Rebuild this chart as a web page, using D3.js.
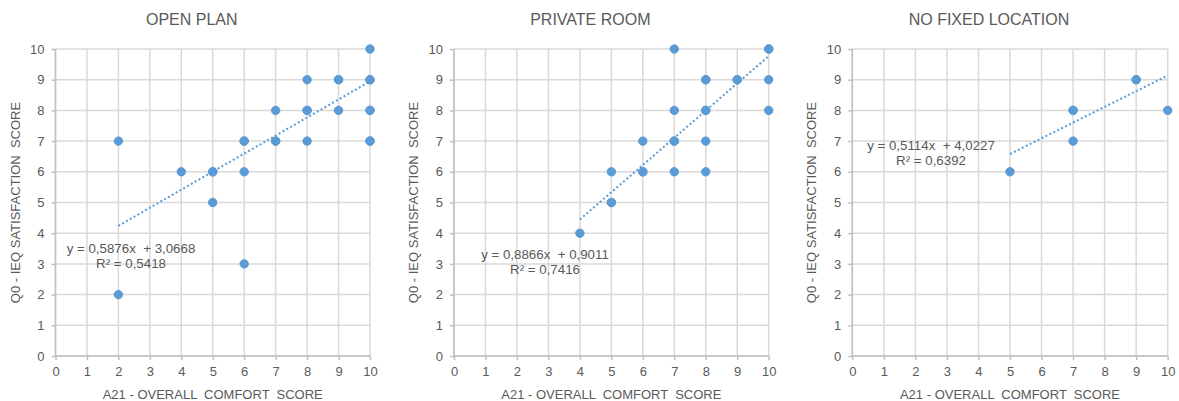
<!DOCTYPE html>
<html>
<head>
<meta charset="utf-8">
<script src="https://cdn.jsdelivr.net/npm/d3@7"></script>
<style>
  html, body { margin: 0; padding: 0; background: #fff; }
  svg { display: block; font-family: "Liberation Sans", Arial, sans-serif; }
  text { white-space: pre; }
</style>
</head>
<body>
<svg id="chart" width="1179" height="401"></svg>
<script>
// Panel titles
const panelTitles = ["OPEN PLAN", "PRIVATE ROOM", "NO FIXED LOCATION"];

// Survey responses: [A21 overall comfort, Q0 IEQ satisfaction]
// (repeated pairs are listed once per respondent)
const openPlanPoints = [
  [2, 7], [2, 2], [4, 6], [5, 6], [5, 6], [5, 5], [6, 7], [6, 7], [6, 6], [6, 3],
  [7, 8], [7, 7], [7, 7], [8, 9], [8, 8], [8, 8], [8, 7], [9, 9], [9, 9], [9, 8],
  [10, 10], [10, 9], [10, 9], [10, 8], [10, 8], [10, 7], [10, 7]
];
const privateRoomPoints = [
  [4, 4], [5, 6], [5, 5], [5, 5], [6, 7], [6, 6], [6, 6], [7, 10], [7, 8], [7, 7], [7, 7],
  [7, 6], [8, 9], [8, 9], [8, 8], [8, 8], [8, 7], [8, 6], [9, 9], [9, 9],
  [10, 10], [10, 10], [10, 9], [10, 8]
];
const noFixedPoints = [
  [5, 6], [7, 8], [7, 8], [7, 7], [9, 9], [9, 9], [10, 8]
];

// Linear trend lines: slope, intercept, R²
const trendSlopes = [0.5876, 0.8866, 0.5114];
const trendIntercepts = [3.0668, 0.9011, 4.0227];
const trendR2 = [0.5418, 0.7416, 0.6392];

// Axis ticks (both axes 0–10)
const tickValues = [0, 1, 2, 3, 4, 5, 6, 7, 8, 9, 10];
const xAxisTitle = "A21 - OVERALL  COMFORT  SCORE";
const yAxisTitle = "Q0 - IEQ SATISFACTION  SCORE";

const BLUE = "#5B9BD5";
const TEXT = "#595959";
const GRID = "#d9d9d9";
const AXIS = "#bfbfbf";

const svg = d3.select("#chart");

// plot-area geometry for each panel
const panels = [
  { left: 55.5, right: 370, labelPos: [131, 248] },
  { left: 454, right: 768.7, labelPos: [545, 254] },
  { left: 852.3, right: 1167.7, labelPos: [931, 145] }
];
const plotTop = 49, plotBottom = 356;
const pointSets = [openPlanPoints, privateRoomPoints, noFixedPoints];

const comma = v => v.toFixed(4).replace(".", ",");

panels.forEach((p, i) => {
  const g = svg.append("g");
  const x = d3.scaleLinear().domain([0, 10]).range([p.left, p.right]);
  const y = d3.scaleLinear().domain([0, 10]).range([plotBottom, plotTop]);

  // gridlines
  g.append("g").selectAll("line").data(tickValues).join("line")
    .attr("x1", x(0)).attr("x2", x(10))
    .attr("y1", d => y(d)).attr("y2", d => y(d))
    .attr("stroke", GRID).attr("stroke-width", 1.5);
  g.append("g").selectAll("line").data(tickValues).join("line")
    .attr("y1", y(0)).attr("y2", y(10))
    .attr("x1", d => x(d)).attr("x2", d => x(d))
    .attr("stroke", GRID).attr("stroke-width", 1.5);

  // axes
  const xAxis = d3.axisBottom(x).tickValues(tickValues).tickSize(4).tickPadding(7).tickFormat(d3.format("d"));
  const yAxis = d3.axisLeft(y).tickValues(tickValues).tickSize(4).tickPadding(7).tickFormat(d3.format("d"));

  const gx = g.append("g").attr("transform", `translate(0,${y(0)})`).call(xAxis);
  const gy = g.append("g").attr("transform", `translate(${x(0)},0)`).call(yAxis);
  [gx, gy].forEach(ax => {
    ax.select(".domain").attr("stroke", AXIS).attr("stroke-width", 1.5);
    ax.selectAll(".tick line").attr("stroke", AXIS).attr("stroke-width", 1.5);
    ax.selectAll(".tick text").attr("fill", TEXT)
      .style("font-size", "13px").style("font-family", "Liberation Sans, Arial, sans-serif");
  });
  gy.select(".domain").attr("d", `M0,${y(10)}V${y(0)}`);
  gx.select(".domain").attr("d", `M${x(0)},0H${x(10)}`);

  // trend line spanning the data's x-range
  const xs = d3.extent(pointSets[i], d => d[0]);
  const f = v => trendSlopes[i] * v + trendIntercepts[i];
  g.append("line")
    .attr("x1", x(xs[0])).attr("y1", y(f(xs[0])))
    .attr("x2", x(xs[1])).attr("y2", y(f(xs[1])))
    .attr("stroke", BLUE).attr("stroke-width", 2)
    .attr("stroke-dasharray", "2 2.4");

  // points
  g.append("g").selectAll("circle").data(pointSets[i]).join("circle")
    .attr("cx", d => x(d[0])).attr("cy", d => y(d[1]))
    .attr("r", 4.2).attr("fill", BLUE).attr("stroke", BLUE).attr("stroke-width", 1);

  // equation label
  const lab = g.append("text").attr("text-anchor", "middle").attr("fill", TEXT)
    .style("font-size", "13.3px");
  lab.append("tspan").attr("x", p.labelPos[0]).attr("y", p.labelPos[1] + 4.5)
    .text(`y = ${comma(trendSlopes[i])}x  + ${comma(trendIntercepts[i])}`);
  lab.append("tspan").attr("x", p.labelPos[0]).attr("dy", 15.5)
    .text(`R² = ${comma(trendR2[i])}`);

  // panel title
  g.append("text").attr("x", (x(0) + x(10)) / 2 - 21).attr("y", 24.5)
    .attr("text-anchor", "middle").attr("fill", TEXT).style("font-size", "16px")
    .text(panelTitles[i]);

  // axis titles
  g.append("text").attr("x", (x(0) + x(10)) / 2).attr("y", 398.5)
    .attr("text-anchor", "middle").attr("fill", TEXT).style("font-size", "13px")
    .text(xAxisTitle);
  g.append("text")
    .attr("transform", `translate(${x(0) - 36},${(plotTop + plotBottom) / 2}) rotate(-90)`)
    .attr("text-anchor", "middle").attr("fill", TEXT).style("font-size", "13px")
    .text(yAxisTitle);
});
</script>
</body>
</html>
